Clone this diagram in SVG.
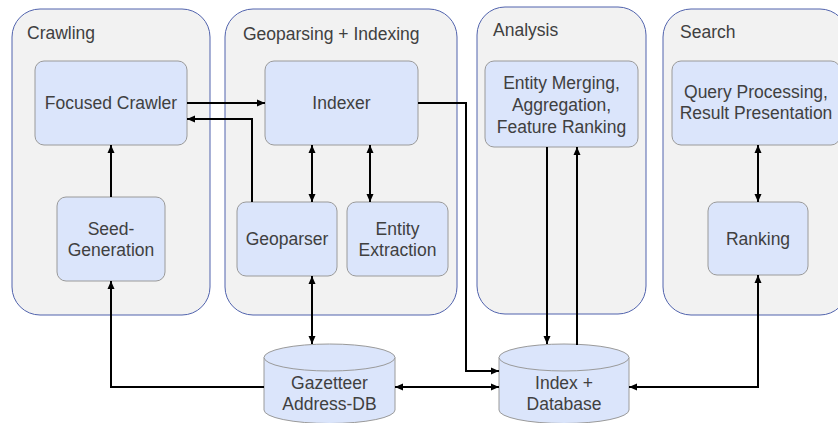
<svg xmlns="http://www.w3.org/2000/svg" width="838" height="423" viewBox="0 0 838 423">
<style>
.cont{fill:#f2f2f2;stroke:#5163ad;stroke-width:1}
.node{fill:#dbe5fb;stroke:#9a9a9a;stroke-width:1}
.t{font-family:"Liberation Sans",Arial,sans-serif;font-size:17.5px;fill:#404040}
.c{text-anchor:middle}
.ln{fill:none;stroke:#000;stroke-width:2}
</style>
<defs>
<marker id="ah" viewBox="0 0 8 8" refX="8" refY="4" markerWidth="8" markerHeight="8" markerUnits="userSpaceOnUse" orient="auto-start-reverse">
<path d="M0,0.5 L8,4 L0,7.5 Z" fill="#000"/>
</marker>
</defs>
<rect width="838" height="423" fill="#fff"/>
<g id="crawling">
<rect class="cont" x="12" y="9" width="198" height="306" rx="28"/>
<text class="t" x="27" y="39">Crawling</text>
</g>
<g id="geoparsing">
<rect class="cont" x="225" y="9" width="232" height="306" rx="28"/>
<text class="t" x="243" y="40">Geoparsing + Indexing</text>
</g>
<g id="analysis">
<rect class="cont" x="477" y="7" width="169" height="307" rx="28"/>
<text class="t" x="493" y="36">Analysis</text>
</g>
<g id="search">
<rect class="cont" x="663" y="9" width="185" height="306" rx="28"/>
<text class="t" x="680" y="38">Search</text>
</g>
<g id="focused-crawler">
<rect class="node" x="35" y="61" width="152" height="84" rx="9"/>
<text class="t c" x="111" y="109">Focused Crawler</text>
</g>
<g id="seed-generation">
<rect class="node" x="57" y="197" width="108" height="84" rx="9"/>
<text class="t c" x="111" y="235">Seed-</text>
<text class="t c" x="111" y="256">Generation</text>
</g>
<g id="indexer">
<rect class="node" x="265" y="61" width="153" height="84" rx="9"/>
<text class="t c" x="341.5" y="109">Indexer</text>
</g>
<g id="geoparser">
<rect class="node" x="237" y="202" width="100" height="74" rx="9"/>
<text class="t c" x="287" y="245">Geoparser</text>
</g>
<g id="entity-extraction">
<rect class="node" x="347" y="202" width="101" height="74" rx="9"/>
<text class="t c" x="397.5" y="235">Entity</text>
<text class="t c" x="397.5" y="256">Extraction</text>
</g>
<g id="entity-merging">
<rect class="node" x="485" y="61" width="153" height="86" rx="9"/>
<text class="t c" x="561.5" y="89">Entity Merging,</text>
<text class="t c" x="561.5" y="111">Aggregation,</text>
<text class="t c" x="561.5" y="133">Feature Ranking</text>
</g>
<g id="query-processing">
<rect class="node" x="672" y="61" width="168" height="84" rx="9"/>
<text class="t c" x="756" y="98">Query Processing,</text>
<text class="t c" x="756" y="119">Result Presentation</text>
</g>
<g id="ranking">
<rect class="node" x="708" y="202" width="100" height="73" rx="9"/>
<text class="t c" x="758" y="245">Ranking</text>
</g>
<g id="gazetteer">
<path class="node" d="M264,357.5 A65.5,13.5 0 0 1 395,357.5 V410 A65.5,13.5 0 0 1 264,410 Z"/>
<path class="node" d="M264,357.5 A65.5,13.5 0 0 0 395,357.5" fill="none"/>
<text class="t c" x="329.5" y="389">Gazetteer</text>
<text class="t c" x="329.5" y="410">Address-DB</text>
</g>
<g id="index-database">
<path class="node" d="M499,357.5 A65,13.5 0 0 1 629,357.5 V410 A65,13.5 0 0 1 499,410 Z"/>
<path class="node" d="M499,357.5 A65,13.5 0 0 0 629,357.5" fill="none"/>
<text class="t c" x="564" y="389">Index +</text>
<text class="t c" x="564" y="410">Database</text>
</g>
<g id="connectors">
<path class="ln" d="M187,103 H265" marker-end="url(#ah)"/>
<path class="ln" d="M252,202 V119 H187" marker-end="url(#ah)"/>
<path class="ln" d="M111,197 V145" marker-end="url(#ah)"/>
<path class="ln" d="M264,387 H111 V281" marker-end="url(#ah)"/>
<path class="ln" d="M312,145 V202" marker-start="url(#ah)" marker-end="url(#ah)"/>
<path class="ln" d="M370,145 V202" marker-start="url(#ah)" marker-end="url(#ah)"/>
<path class="ln" d="M312,276 V344" marker-start="url(#ah)" marker-end="url(#ah)"/>
<path class="ln" d="M418,103 H466 V371 H499" marker-end="url(#ah)"/>
<path class="ln" d="M395,387 H499" marker-start="url(#ah)" marker-end="url(#ah)"/>
<path class="ln" d="M547,147 V344" marker-end="url(#ah)"/>
<path class="ln" d="M577,345 V147" marker-end="url(#ah)"/>
<path class="ln" d="M758,145 V202" marker-start="url(#ah)" marker-end="url(#ah)"/>
<path class="ln" d="M629,387 H758 V275" marker-start="url(#ah)" marker-end="url(#ah)"/>
</g>
</svg>
